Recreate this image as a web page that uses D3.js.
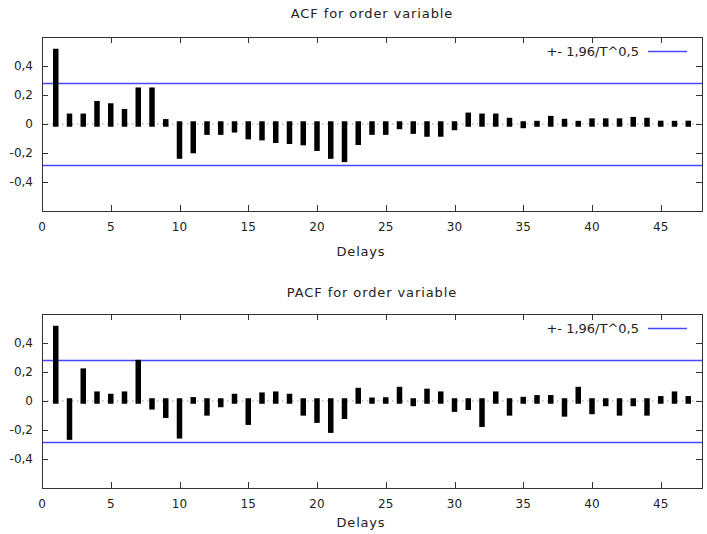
<!DOCTYPE html>
<html>
<head>
<meta charset="utf-8">
<script src="https://cdn.jsdelivr.net/npm/d3@7/dist/d3.min.js"></script>
<style>
  body { margin: 0; background: #fff; }
  svg { display: block; font-family: "DejaVu Sans", Verdana, sans-serif; }
</style>
</head>
<body>
<div id="wrapper"></div>
<script>
const width = 707,
    height = 534;

// lags 1..47
const lags = d3.range(1, 48);
const acfValues = [
    0.50, 0.053, 0.053, 0.14, 0.124, 0.085, 0.233, 0.233, 0.015, -0.221,
    -0.183, -0.056, -0.056, -0.04, -0.087, -0.094, -0.112, -0.119, -0.128, -0.167,
    -0.221, -0.244, -0.126, -0.056, -0.056, -0.017, -0.049, -0.069, -0.069, -0.024,
    0.06, 0.053, 0.053, 0.024, -0.01, 0.003, 0.037, 0.017, 0.003, 0.02,
    0.02, 0.02, 0.03, 0.024, 0.004, 0.003, 0.004
];
const pacfValues = [
    0.50, -0.249, 0.206, 0.047, 0.031, 0.047, 0.265, -0.04, -0.098, -0.24,
    0.008, -0.082, -0.024, 0.031, -0.146, 0.04, 0.047, 0.031, -0.082, -0.132,
    -0.201, -0.105, 0.072, 0.005, 0.007, 0.079, -0.017, 0.066, 0.047, -0.056,
    -0.043, -0.16, 0.047, -0.082, 0.01, 0.022, 0.022, -0.089, 0.079, -0.072,
    -0.017, -0.082, -0.017, -0.082, 0.015, 0.047, 0.015
];
const confBand = 0.286;
const yTicks = [-0.4, -0.2, 0, 0.2, 0.4];
const xTicks = [0, 5, 10, 15, 20, 25, 30, 35, 40, 45];
const titles = ["ACF for order variable", "PACF for order variable"];
const legendLabel = "+- 1,96/T^0,5";
const xLabel = "Delays";

const left = 42, right = 702;
const panels = [
    { top: 37, bottom: 211, titleY: 13, labelY: 251, values: acfValues },
    { top: 314, bottom: 488, titleY: 292, labelY: 522, values: pacfValues }
];

const fmt = v => d3.format(".1f")(v).replace(".", ",").replace(/^0,0$/, "0").replace("−", "-");

const svg = d3.select('#wrapper')
    .append('svg')
    .attr('width', width)
    .attr('height', height);

const x = d3.scaleLinear().domain([0, 48]).range([left, right]);

panels.forEach((p, i) => {
    const y = d3.scaleLinear().domain([-0.6, 0.6]).range([p.bottom, p.top]);
    const g = svg.append('g');

    // title
    g.append('text')
        .attr('x', (left + right) / 2)
        .attr('y', p.titleY)
        .attr('dy', '0.35em')
        .attr('text-anchor', 'middle')
        .attr('font-size', 13)
        .attr('letter-spacing', 0.9)
        .attr('fill', '#222')
        .text(titles[i]);

    // zero line (dotted)
    g.append('line')
        .attr('x1', left).attr('x2', right)
        .attr('y1', y(0)).attr('y2', y(0))
        .attr('stroke', '#999')
        .attr('stroke-dasharray', '1.5,3.5');

    // confidence band lines
    [confBand, -confBand].forEach(c => {
        g.append('line')
            .attr('x1', left).attr('x2', right)
            .attr('y1', Math.round(y(c)) + 0.5).attr('y2', Math.round(y(c)) + 0.5)
            .attr('stroke', '#4848ff')
            .attr('stroke-width', 1.3);
    });

    // bars (impulses)
    g.selectAll('.bar')
        .data(lags)
        .enter()
        .append('line')
        .attr('class', 'bar')
        .attr('x1', d => x(d)).attr('x2', d => x(d))
        .attr('y1', y(0))
        .attr('y2', (d, j) => y(p.values[j]))
        .attr('stroke', '#000')
        .attr('stroke-width', 5.5)
        .attr('stroke-linecap', 'square');

    // y ticks, both sides, inward
    yTicks.forEach(t => {
        const yy = Math.round(y(t)) + 0.5;
        g.append('line').attr('x1', left).attr('x2', left + 6).attr('y1', yy).attr('y2', yy)
            .attr('stroke', '#333');
        g.append('line').attr('x1', right - 6).attr('x2', right).attr('y1', yy).attr('y2', yy)
            .attr('stroke', '#333');
        g.append('text')
            .attr('x', left - 9)
            .attr('y', y(t))
            .attr('dy', '0.35em')
            .attr('text-anchor', 'end')
            .attr('font-size', 12)
            .attr('fill', '#222')
            .text(fmt(t));
    });

    // x ticks, top and bottom, inward
    xTicks.forEach(t => {
        const xx = Math.round(x(t)) + 0.5;
        if (t > 0) {
            g.append('line').attr('x1', xx).attr('x2', xx).attr('y1', p.bottom).attr('y2', p.bottom - 6)
                .attr('stroke', '#333');
            g.append('line').attr('x1', xx).attr('x2', xx).attr('y1', p.top).attr('y2', p.top + 6)
                .attr('stroke', '#333');
        }
        g.append('text')
            .attr('x', x(t))
            .attr('y', p.bottom + 16)
            .attr('dy', '0.35em')
            .attr('text-anchor', 'middle')
            .attr('font-size', 12)
            .attr('fill', '#222')
            .text(t);
    });

    // x label
    g.append('text')
        .attr('x', 361)
        .attr('y', p.labelY)
        .attr('dy', '0.35em')
        .attr('text-anchor', 'middle')
        .attr('font-size', 13)
        .attr('letter-spacing', 0.8)
        .attr('fill', '#222')
        .text(xLabel);

    // legend
    const ly = p.top + 14;
    g.append('text')
        .attr('x', 639)
        .attr('y', ly)
        .attr('dy', '0.35em')
        .attr('text-anchor', 'end')
        .attr('font-size', 13)
        .attr('fill', '#222')
        .text(legendLabel);
    g.append('line')
        .attr('x1', 648).attr('x2', 687)
        .attr('y1', Math.round(ly) + 0.5).attr('y2', Math.round(ly) + 0.5)
        .attr('stroke', '#4848ff')
        .attr('stroke-width', 1.3);

    // frame
    g.append('rect')
        .attr('x', left + 0.5).attr('y', p.top + 0.5)
        .attr('width', right - left).attr('height', p.bottom - p.top)
        .attr('fill', 'none')
        .attr('stroke', '#333');
});
</script>
</body>
</html>
